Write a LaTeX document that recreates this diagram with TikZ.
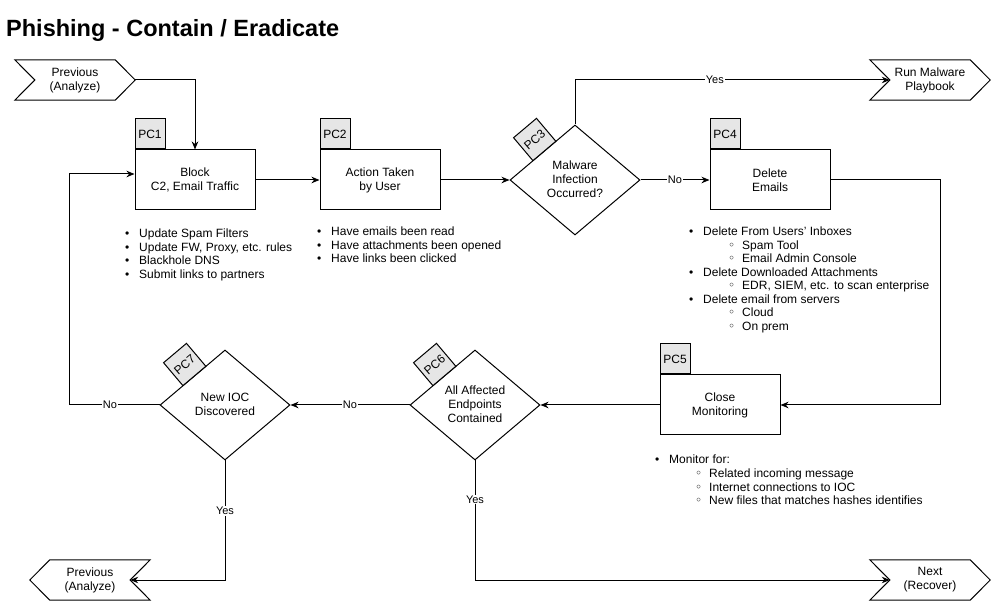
\documentclass[tikz,border=0pt]{standalone}
\usepackage{fontspec}
\setmainfont{Liberation Sans}
\newfontfamily\dejavu{DejaVu Sans}
\usetikzlibrary{arrows.meta,calc,shapes.geometric}
\definecolor{tabgray}{HTML}{E6E6E6}
\newcommand{\bul}{\llap{•\hspace{10pt}}}
\newcommand{\sbul}{\llap{{\dejavu ◦}\hspace{7pt}}}
\tikzset{
  every node/.style={font=\fontsize{12}{14}\selectfont},
  box/.style={draw, line width=1pt, minimum width=120pt, minimum height=60pt, inner sep=0pt, align=center},
  tabbox/.style={draw, line width=1pt, fill=tabgray, minimum width=30pt, minimum height=30pt, inner sep=0pt},
  dia/.style={draw, line width=1pt, diamond, minimum width=130pt, minimum height=110pt, inner sep=0pt},
  dtext/.style={align=center, inner sep=0pt},
  chevtext/.style={minimum width=120pt, minimum height=40pt, inner sep=0pt, align=center},
  chevline/.style={line width=1pt, line join=miter},
  conn/.style={line width=1pt, -{Stealth[length=8pt,width=6.5pt,inset=2.5pt]}},
  lbl/.style={fill=white, inner sep=1pt, font=\fontsize{11}{13}\selectfont},
  item/.style={anchor=base west, inner sep=0pt},
}
\begin{document}
\begin{tikzpicture}[x=1pt,y=-1pt]
\useasboundingbox (0,0) rectangle (991,601);

\node[anchor=base west, inner sep=0pt, font=\fontsize{23.5}{28}\selectfont\bfseries] (title) at (6,37) {Phishing - Contain / Eradicate};

% chevrons
\node[chevtext] (prevA) at (75,80) {Previous\\(Analyze)};
\draw[chevline] (prevA.north west) -- ([xshift=-20pt]prevA.north east) -- (prevA.east) -- ([xshift=-20pt]prevA.south east) -- (prevA.south west) -- ([xshift=20pt]prevA.west) -- cycle;

\node[chevtext] (runM) at (930,80) {Run Malware\\Playbook};
\draw[chevline] (runM.north west) -- ([xshift=-20pt]runM.north east) -- (runM.east) -- ([xshift=-20pt]runM.south east) -- (runM.south west) -- ([xshift=20pt]runM.west) -- cycle;
\coordinate (runIn) at ([xshift=20pt]runM.west);

\node[chevtext] (nextR) at (930,580) {Next\\(Recover)};
\draw[chevline] (nextR.north west) -- ([xshift=-20pt]nextR.north east) -- (nextR.east) -- ([xshift=-20pt]nextR.south east) -- (nextR.south west) -- ([xshift=20pt]nextR.west) -- cycle;
\coordinate (nextIn) at ([xshift=20pt]nextR.west);

\node[chevtext] (prevB) at (90,580) {Previous\\(Analyze)};
\draw[chevline] (prevB.west) -- ([xshift=20pt]prevB.north west) -- (prevB.north east) -- ([xshift=-20pt]prevB.east) -- (prevB.south east) -- ([xshift=20pt]prevB.south west) -- cycle;
\coordinate (prevIn) at ([xshift=-20pt]prevB.east);

% boxes
\node[box] (pc1) at (195,180) {Block\\C2, Email Traffic};
\node[tabbox, anchor=south west] (t1) at (pc1.north west) {PC1};
\node[box] (pc2) at (380,180) {Action Taken\\by User};
\node[tabbox, anchor=south west] (t2) at (pc2.north west) {PC2};
\node[box] (pc4) at (770,180) {Delete\\Emails};
\node[tabbox, anchor=south west] (t4) at (pc4.north west) {PC4};
\node[box] (pc5) at (720,405) {Close\\Monitoring};
\node[tabbox, anchor=south west] (t5) at (pc5.north west) {PC5};

% diamonds
\node[dia] (pc3) at (575,180) {};
\node[dtext] (pc3t) at (575,179.5) {Malware\\Infection\\Occurred?};
\node[tabbox, rotate=40.2] (t3) at ($(pc3)+(-40.3,-40.5)$) {PC3};
\node[dia] (pc6) at (475,405) {};
\node[dtext] (pc6t) at (475,404.5) {All Affected\\Endpoints\\Contained};
\node[tabbox, rotate=40.2] (t6) at ($(pc6)+(-40.3,-40.5)$) {PC6};
\node[dia] (pc7) at (225,405) {};
\node[dtext] (pc7t) at (225,404.5) {New IOC\\Discovered};
\node[tabbox, rotate=40.2] (t7) at ($(pc7)+(-40.3,-40.5)$) {PC7};

% connectors
\draw[conn] (prevA.east) -| (pc1.north);
\draw[conn] (pc1.east) -- (pc2.west);
\draw[conn] (pc2.east) -- (pc3.west);
\draw[conn] (pc3.east) -- node[lbl] (n1) {No} (pc4.west);
\draw[conn] (pc3.north) |- node[lbl, pos=0.722] (y1) {Yes} (runIn);
\draw[conn] (pc4.east) -- ++(110,0) |- (pc5.east);
\draw[conn] (pc5.west) -- (pc6.east);
\draw[conn] (pc6.west) -- node[lbl] (n2) {No} (pc7.east);
\draw[conn] (pc7.west) -- node[lbl, pos=0.55] (n3) {No} ++(-90,0) |- ([yshift=6pt]pc1.west);
\draw[conn] (pc7.south) |- node[lbl, pos=0.21] (y2) {Yes} (prevIn);
\draw[conn] (pc6.south) |- node[lbl, pos=0.1625] (y3) {Yes} (nextIn);

% lists
\foreach \t [count=\i] in {Update Spam Filters, {Update FW, Proxy, etc. rules}, Blackhole DNS, Submit links to partners}
  \node[item] (a\i) at (139,{238+13.35*(\i-1)}) {\bul\t};
\foreach \t [count=\i] in {Have emails been read, Have attachments been opened, Have links been clicked}
  \node[item] (b\i) at (331,{236+13.35*(\i-1)}) {\bul\t};
\foreach \lev/\t [count=\i] in {0/Delete From Users' Inboxes, 1/Spam Tool, 1/Email Admin Console, 0/Delete Downloaded Attachments, 1/{EDR, SIEM, etc. to scan enterprise}, 0/Delete email from servers, 1/Cloud, 1/On prem}
  \node[item] (d\i) at ({ifthenelse(\lev==0,703,742)},{236+13.47*(\i-1)}) {\ifnum\lev=0 \bul\else\sbul\fi\t};
\foreach \lev/\t [count=\i] in {0/Monitor for:, 1/Related incoming message, 1/Internet connections to IOC, 1/New files that matches hashes identifies}
  \node[item] (e\i) at ({ifthenelse(\lev==0,669,709)},{463.5+13.8*(\i-1)}) {\ifnum\lev=0 \bul\else\sbul\fi\t};
\end{tikzpicture}
\end{document}
